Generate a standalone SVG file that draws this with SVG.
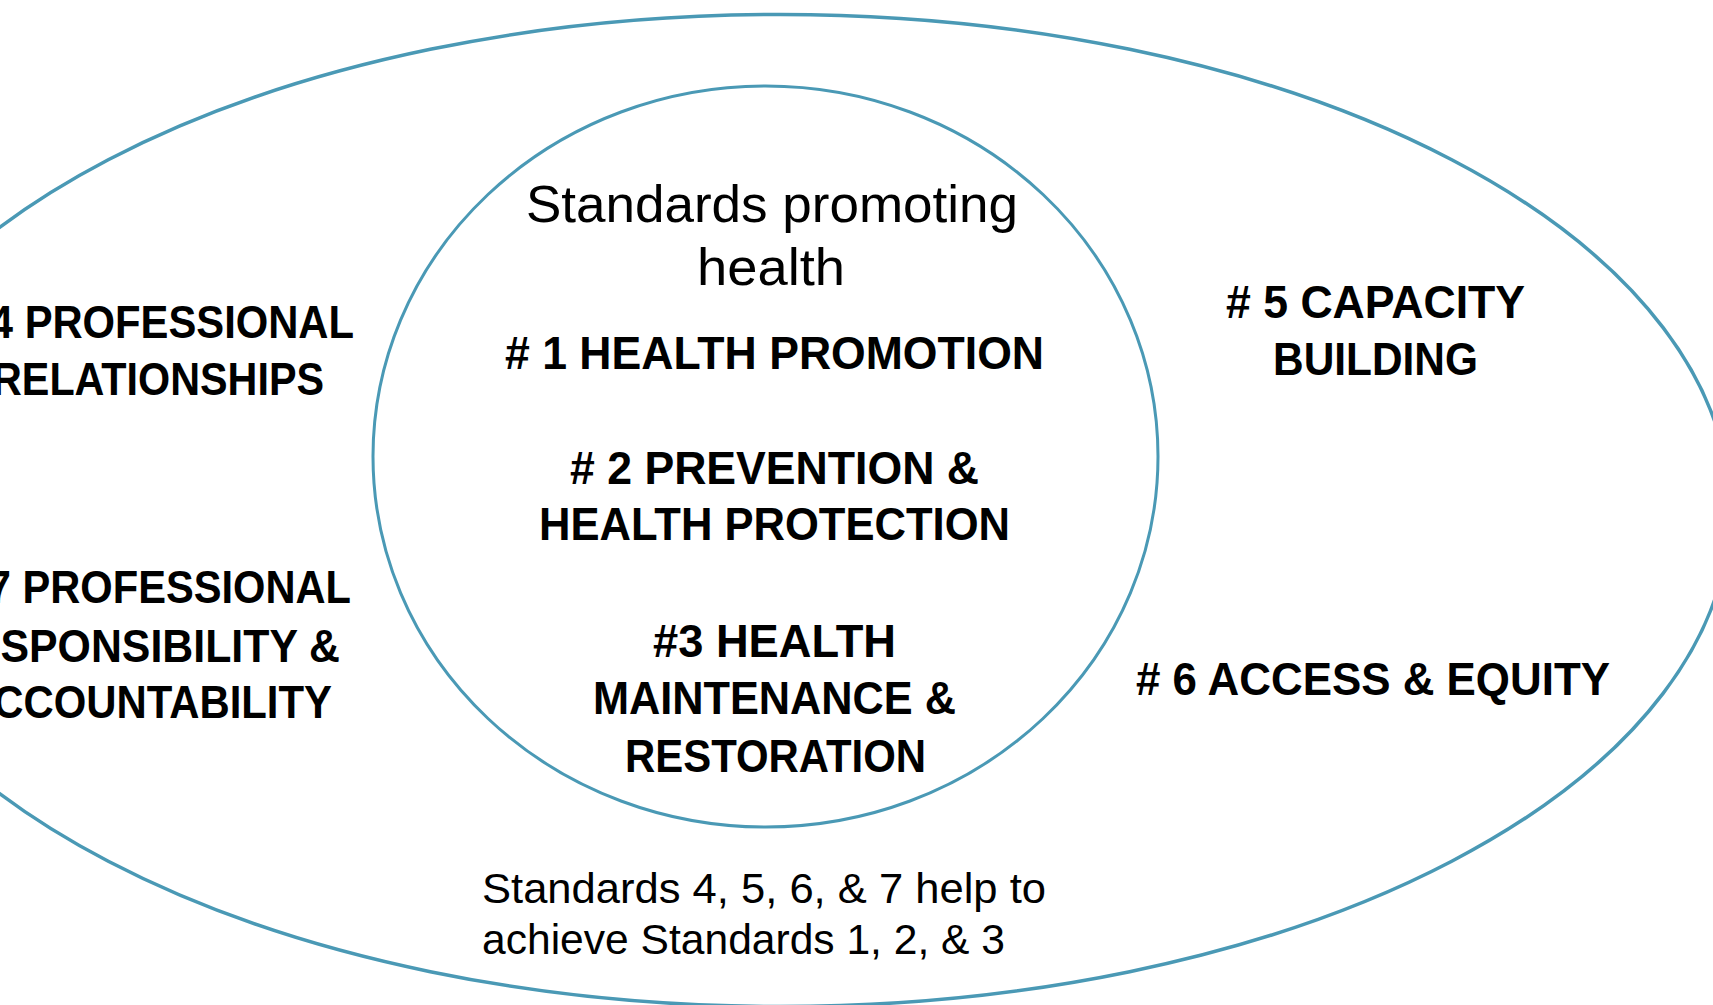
<svg xmlns="http://www.w3.org/2000/svg" width="1713" height="1005" viewBox="0 0 1713 1005">
<style>
.ring{fill:none;stroke:#4a99b5}
.b{font-family:"Liberation Sans",Arial,sans-serif;font-weight:bold;font-size:47px;fill:#000}
.r{font-family:"Liberation Sans",Arial,sans-serif;font-size:52px;fill:#000}
.s{font-family:"Liberation Sans",Arial,sans-serif;font-size:42px;fill:#000}
.m{text-anchor:middle}
</style>
<rect width="1713" height="1005" fill="#fff"/>
<g id="outer">
<ellipse class="ring" cx="780" cy="510.5" rx="950" ry="496" stroke-width="3.5"/>
</g>
<g id="inner">
<ellipse class="ring" cx="765.5" cy="456.5" rx="392.5" ry="370.5" stroke-width="3"/>
</g>
<g id="connectors"></g>
<g id="inner-title">
<text class="r m" x="772" y="222" textLength="492" lengthAdjust="spacingAndGlyphs">Standards promoting</text>
<text class="r m" x="771" y="285" textLength="148" lengthAdjust="spacingAndGlyphs">health</text>
</g>
<g id="std1">
<text class="b m" x="774.5" y="369" textLength="539" lengthAdjust="spacingAndGlyphs"># 1 HEALTH PROMOTION</text>
</g>
<g id="std2">
<text class="b m" x="774.5" y="484" textLength="409" lengthAdjust="spacingAndGlyphs"># 2 PREVENTION &amp;</text>
<text class="b m" x="774.5" y="540" textLength="471" lengthAdjust="spacingAndGlyphs">HEALTH PROTECTION</text>
</g>
<g id="std3">
<text class="b m" x="774.5" y="657" textLength="243" lengthAdjust="spacingAndGlyphs">#3 HEALTH</text>
<text class="b m" x="774.5" y="714" textLength="363" lengthAdjust="spacingAndGlyphs">MAINTENANCE &amp;</text>
<text class="b m" x="775.5" y="772" textLength="301" lengthAdjust="spacingAndGlyphs">RESTORATION</text>
</g>
<g id="std4">
<text class="b" x="-45" y="338" textLength="399" lengthAdjust="spacingAndGlyphs"># 4 PROFESSIONAL</text>
<text class="b" x="-8" y="395" textLength="332" lengthAdjust="spacingAndGlyphs">RELATIONSHIPS</text>
</g>
<g id="std7">
<text class="b" x="-47" y="603" textLength="398" lengthAdjust="spacingAndGlyphs"># 7 PROFESSIONAL</text>
<text class="b" x="-59" y="662" textLength="399" lengthAdjust="spacingAndGlyphs">RESPONSIBILITY &amp;</text>
<text class="b" x="-37" y="718" textLength="369" lengthAdjust="spacingAndGlyphs">ACCOUNTABILITY</text>
</g>
<g id="std5">
<text class="b m" x="1375.5" y="318" textLength="299" lengthAdjust="spacingAndGlyphs"># 5 CAPACITY</text>
<text class="b m" x="1375.5" y="375" textLength="205" lengthAdjust="spacingAndGlyphs">BUILDING</text>
</g>
<g id="std6">
<text class="b m" x="1373" y="695" textLength="474" lengthAdjust="spacingAndGlyphs"># 6 ACCESS &amp; EQUITY</text>
</g>
<g id="note">
<text class="s" x="482" y="903" textLength="564" lengthAdjust="spacingAndGlyphs">Standards 4, 5, 6, &amp; 7 help to</text>
<text class="s" x="482" y="954" textLength="523" lengthAdjust="spacingAndGlyphs">achieve Standards 1, 2, &amp; 3</text>
</g>
</svg>
